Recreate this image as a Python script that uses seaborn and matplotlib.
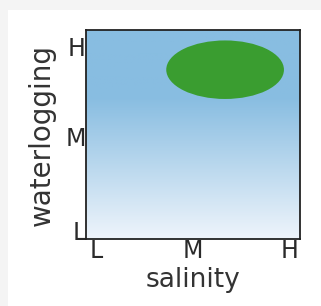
import numpy as np
import matplotlib
matplotlib.use("Agg")
import matplotlib.pyplot as plt
import seaborn as sns
from matplotlib.patches import Ellipse, Rectangle

# data
levels = ["L", "M", "H"]
salinity_pos = [0.05, 0.5, 0.95]
waterlog_pos = [0.04, 0.49, 0.92]
# niche ellipse (salinity, waterlogging) in 0-1 units
niche_center = (0.65, 0.81)
niche_width = 0.55
niche_height = 0.28

sns.set_style("white")
plt.rcParams['font.family'] = ['DejaVu Sans']

fig = plt.figure(figsize=(3.21, 3.06), dpi=100)
fig.patch.set_facecolor("#f4f4f4")
# white panel
fig.patches.append(Rectangle((8 / 321, 0), 1, 1 - 10 / 306, transform=fig.transFigure,
                             facecolor="white", edgecolor="none", zorder=-5))

ax = fig.add_axes([86 / 321, 67 / 306, 214 / 321, 209 / 306])
ax.set_zorder(2)

# background gradient, bottom pale to top blue
grad = np.clip(np.linspace(0, 1, 200) / 0.68, 0, 1)[:, None]
cmap = sns.blend_palette(["#eef4fb", "#88bde1"], as_cmap=True)
ax.imshow(grad, cmap=cmap, origin="lower", extent=[0, 1, 0, 1], aspect="auto", zorder=0)

ax.add_patch(Ellipse(niche_center, niche_width, niche_height, facecolor="#3a9d30",
                     edgecolor="none", zorder=2))

ax.set_xlim(0, 1)
ax.set_ylim(0, 1)
ax.set_xticks(salinity_pos)
ax.set_xticklabels(levels)
ax.set_yticks(waterlog_pos)
ax.set_yticklabels(levels)
ax.tick_params(length=0, labelsize=17, colors="#2a2a2a", pad=0)
ax.set_xlabel("salinity", fontsize=19, color="#333333", labelpad=3)
ax.set_ylabel("waterlogging", fontsize=20, color="#333333", labelpad=7)
for s in ax.spines.values():
    s.set_visible(True)
    s.set_color("#222222")
    s.set_linewidth(1.3)

fig.savefig("out.png", dpi=100, facecolor=fig.get_facecolor())
